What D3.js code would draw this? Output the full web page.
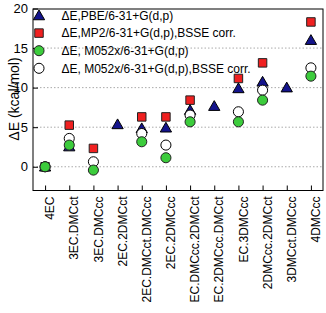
<!DOCTYPE html>
<html><head><meta charset="utf-8">
<script src="https://cdn.jsdelivr.net/npm/d3@7"></script>
<style>body{margin:0;background:#fff}svg{display:block;font-family:Arial,"Liberation Sans",sans-serif}</style>
</head><body>
<script>
const categories = ["4EC","3EC.DMCct","3EC.DMCcc","2EC.2DMCct","2EC.DMCct.DMCcc","2EC.2DMCcc","EC.DMCcc.2DMCct","EC.2DMCcc.DMCct","EC.3DMCcc","2DMCcc.2DMCct","3DMCct.DMCcc","4DMCcc"];
const pbe      = [0, 2.55, null, 5.35, 4.85, 4.93, 7.16, 7.66, 9.9, 10.73, 10.0, 16.0];
const mp2Bsse  = [0, 5.26, 2.32, null, 6.3, 6.3, 8.42, null, 11.16, 13.13, null, 18.3];
const m052x    = [0, 2.74, -0.42, null, 3.16, 1.14, 5.68, null, 5.68, 8.42, null, 11.45];
const m052xBsse= [0, 3.58, 0.63, null, 4.2, 2.74, 6.53, null, 6.95, 9.68, null, 12.5];
const yTicks = [0,5,10,15,20];
const legendLabels = ["\u0394E,PBE/6-31+G(d,p)","\u0394E,MP2/6-31+G(d,p),BSSE corr.","\u0394E, M052x/6-31+G(d,p)","\u0394E, M052x/6-31+G(d,p),BSSE corr."];

const W=326,H=313, L=33, R=323, T=9, B=190.5;
const svg=d3.select("body").append("svg").attr("width",W).attr("height",H);
const x=d3.scalePoint().domain(categories).range([L,R]).padding(0.5);
const y=d3.scaleLinear().domain([-3,20]).range([B,8.5]);

// grid
svg.append("g").selectAll("line").data(yTicks.filter(d=>d<20)).join("line")
  .attr("x1",L).attr("x2",R).attr("y1",d=>y(d)).attr("y2",d=>y(d))
  .attr("stroke","#aaa").attr("stroke-width",1).attr("stroke-dasharray","1.5,2");

// y axis
const ya=svg.append("g").attr("transform",`translate(${L},0)`)
  .call(d3.axisLeft(y).tickValues(yTicks).tickSize(-5).tickPadding(5));
ya.select(".domain").remove();
ya.selectAll("text").attr("font-size",13).attr("fill","#000").attr("font-family","Arial, 'Liberation Sans', sans-serif");
ya.selectAll("line").attr("stroke","#000");

// x axis
const xa=svg.append("g").attr("transform",`translate(0,${B})`)
  .call(d3.axisBottom(x).tickSize(-5).tickPadding(0));
xa.select(".domain").remove();
xa.selectAll("line").attr("stroke","#000");
xa.selectAll("text").attr("font-size",12).attr("fill","#000")
  .attr("font-family","Arial, 'Liberation Sans', sans-serif")
  .attr("text-anchor","end").attr("transform","rotate(-90)")
  .attr("x",-6).attr("y",0).attr("dy","0.72em");

// frame
svg.append("rect").attr("x",L).attr("y",T).attr("width",R-L).attr("height",B-T)
  .attr("fill","none").attr("stroke","#000").attr("stroke-width",1);

// y title
svg.append("text").attr("transform",`translate(19,${99}) rotate(-90)`)
  .attr("text-anchor","middle").attr("font-size",14).text("\u0394E (kcal/mol)");

const tri=d3.symbol().type(d3.symbolTriangle).size(55);
const sq=d3.symbol().type(d3.symbolSquare).size(72);
const circ=d3.symbol().type(d3.symbolCircle).size(80);
const styles=[
  {data:pbe, sym:tri, fill:"#14148c", stroke:"#000", dy:1},
  {data:mp2Bsse, sym:sq, fill:"#f02020", stroke:"#222", dy:0},
  {data:m052x, sym:circ, fill:"#3ccc3c", stroke:"#222", dy:0},
  {data:m052xBsse, sym:circ, fill:"#fff", stroke:"#000", dy:0}
];
const drawOrder=[1,0,3,2];
drawOrder.forEach(k=>{
  const s=styles[k];
  svg.append("g").selectAll("path").data(categories.map((c,i)=>({c,v:s.data[i]})).filter(d=>d.v!=null))
    .join("path").attr("d",s.sym)
    .attr("transform",d=>`translate(${x(d.c)},${y(d.v)+s.dy})`)
    .attr("fill",s.fill).attr("stroke",s.stroke).attr("stroke-width",1);
});

// legend
const lg=svg.append("g");
styles.forEach((s,i)=>{
  const yy=15.5+i*17.6;
  lg.append("path").attr("d",s.sym).attr("transform",`translate(39,${yy+(i==0?1:0)})`)
    .attr("fill",s.fill).attr("stroke",s.stroke);
  lg.append("text").attr("x",61.5).attr("y",yy).attr("dy","0.36em").attr("font-size",12).text(legendLabels[i]);
});
</script>
</body></html>
